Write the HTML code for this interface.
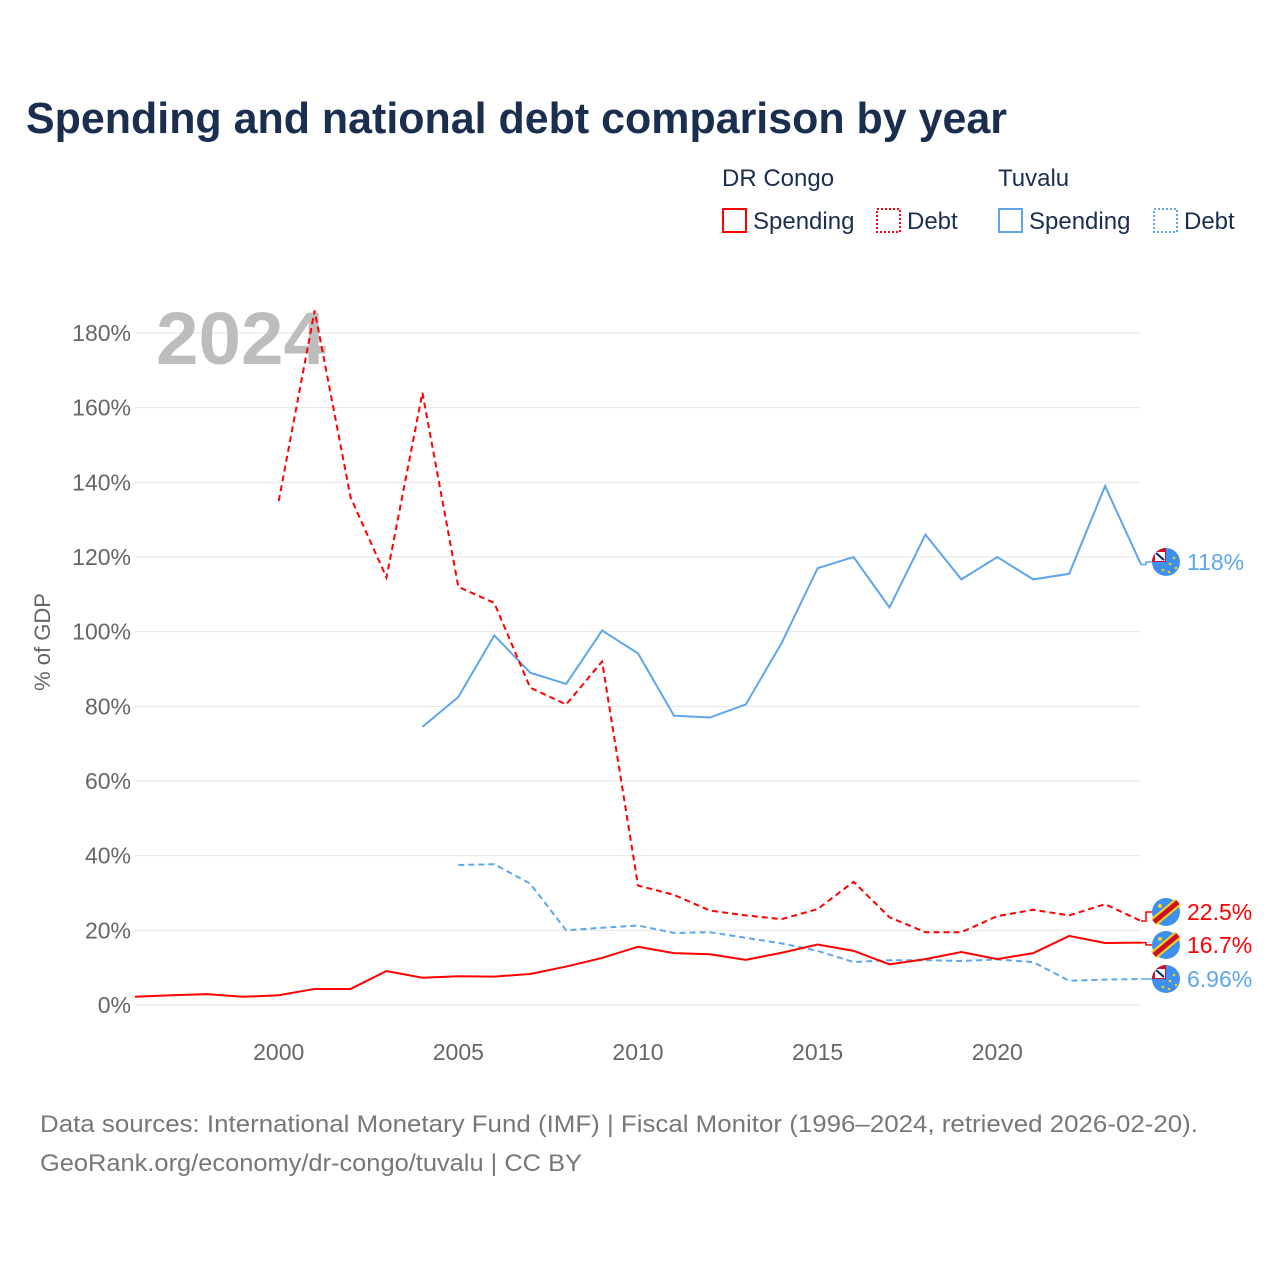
<!DOCTYPE html>
<html><head><meta charset="utf-8"><style>
body{margin:0;background:#fff;font-family:"Liberation Sans",sans-serif}
svg text{font-family:"Liberation Sans",sans-serif}
</style></head><body>
<svg id="c" width="1280" height="1280" xmlns="http://www.w3.org/2000/svg">
<text x="26" y="133" font-size="44" font-weight="bold" fill="#1a2e4f" textLength="981" lengthAdjust="spacingAndGlyphs">Spending and national debt comparison by year</text>
<g font-size="24" fill="#1a2e4f">
<text x="722" y="186">DR Congo</text>
<text x="998" y="186">Tuvalu</text>
<rect x="723" y="209" width="23" height="23" fill="none" stroke="#f00" stroke-width="2"/>
<text x="753" y="229">Spending</text>
<rect x="877" y="209" width="23" height="23" fill="none" stroke="#f00" stroke-width="2" stroke-dasharray="2 2"/>
<text x="907" y="229">Debt</text>
<rect x="999" y="209" width="23" height="23" fill="none" stroke="#5ea6ea" stroke-width="2"/>
<text x="1029" y="229">Spending</text>
<rect x="1154" y="209" width="23" height="23" fill="none" stroke="#5ea6ea" stroke-width="2" stroke-dasharray="2 2"/>
<text x="1184" y="229">Debt</text>
</g>
<g id="grid"></g>
<text x="156" y="364" font-size="74" font-weight="bold" fill="#bdbdbd" textLength="170" lengthAdjust="spacingAndGlyphs">2024</text>
<text transform="translate(50,642) rotate(-90)" text-anchor="middle" font-size="22" fill="#666">% of GDP</text>
<g id="marks"></g>
<g id="labels"></g>
<text x="40" y="1132" font-size="24" fill="#777" textLength="1158" lengthAdjust="spacingAndGlyphs">Data sources: International Monetary Fund (IMF) | Fiscal Monitor (1996–2024, retrieved 2026-02-20).</text>
<text x="40" y="1171" font-size="24" fill="#777" textLength="542" lengthAdjust="spacingAndGlyphs">GeoRank.org/economy/dr-congo/tuvalu | CC BY</text>
</svg>
<script>
const yTicks=[0,20,40,60,80,100,120,140,160,180];
const xTicks=[2000,2005,2010,2015,2020];
const drcSpendYears=[1996,1997,1998,1999,2000,2001,2002,2003,2004,2005,2006,2007,2008,2009,2010,2011,2012,2013,2014,2015,2016,2017,2018,2019,2020,2021,2022,2023,2024];
const drcSpend=[2.2,2.6,2.9,2.2,2.6,4.3,4.3,9.1,7.3,7.7,7.6,8.3,10.3,12.6,15.6,13.9,13.6,12.1,14.0,16.2,14.5,10.9,12.3,14.2,12.3,13.9,18.5,16.6,16.7];
const drcDebtYears=[2000,2001,2002,2003,2004,2005,2006,2007,2008,2009,2010,2011,2012,2013,2014,2015,2016,2017,2018,2019,2020,2021,2022,2023,2024];
const drcDebt=[135,186,136,114.5,164,112,107.7,85,80.5,92,32,29.5,25.3,24,23,25.7,33,23.5,19.5,19.5,23.8,25.5,24,27,22.5];
const tuvSpendYears=[2004,2005,2006,2007,2008,2009,2010,2011,2012,2013,2014,2015,2016,2017,2018,2019,2020,2021,2022,2023,2024];
const tuvSpend=[74.5,82.5,99,89,86,100.3,94.2,77.5,77,80.5,97,117,120,106.5,126,114,120,114,115.5,139,118];
const tuvDebtYears=[2005,2006,2007,2008,2009,2010,2011,2012,2013,2014,2015,2016,2017,2018,2019,2020,2021,2022,2023,2024];
const tuvDebt=[37.5,37.7,32.5,20,20.7,21.3,19.3,19.5,18,16.5,14.5,11.5,12,12,11.8,12.2,11.5,6.5,6.8,6.96];
const NS='http://www.w3.org/2000/svg';
const X=y=>135+(y-1996)*(1141-135)/28, Y=v=>1005-v*672/180;
function mk(t,a,p){const e=document.createElementNS(NS,t);for(const k in a)e.setAttribute(k,a[k]);p.appendChild(e);return e;}
const g=document.getElementById('grid');
yTicks.forEach(v=>{const l=mk('line',{x1:135,x2:1141,y1:Y(v),y2:Y(v),stroke:'#e6e6e6','stroke-width':1},g);


const t=mk('text',{x:131,y:Y(v)+8,'text-anchor':'end','font-size':23,fill:'#666'},g);t.textContent=v+'%';

});
xTicks.forEach(v=>{const t=mk('text',{x:X(v),y:1060,'text-anchor':'middle','font-size':23,fill:'#666'},g);t.textContent=v;

});
const m=document.getElementById('marks');
function line(ys,vs,col,dash,name){const p=mk('polyline',{points:ys.map((y,i)=>X(y)+','+Y(vs[i])).join(' '),fill:'none',stroke:col,'stroke-width':2,'stroke-dasharray':dash},m);

}
line(tuvDebtYears,tuvDebt,'#5ea6ea','6 4','line-tuvalu-debt');
line(tuvSpendYears,tuvSpend,'#5ea6ea','none','line-tuvalu-spending');
line(drcDebtYears,drcDebt,'#f00','6 4','line-drc-debt');
line(drcSpendYears,drcSpend,'#f00','none','line-drc-spending');
const L=document.getElementById('labels');
function lab(v,ly,col,txt,flag,name){
const y0=Y(v);
const c=mk('polyline',{points:`1141,${y0} 1146,${y0} 1146,${ly} 1152,${ly}`,fill:'none',stroke:col,'stroke-width':1.5},L);


const gg=mk('g',{},L);


mk('circle',{cx:1166,cy:ly,r:14,fill:'#3d8ff0'},gg);
if(flag==='drc'){mk('line',{x1:1154,y1:ly+10,x2:1178,y2:ly-10,stroke:'#f7d618','stroke-width':9},gg);
mk('line',{x1:1154,y1:ly+10,x2:1178,y2:ly-10,stroke:'#ce1021','stroke-width':5},gg);
mk('circle',{cx:1160,cy:ly-6,r:2,fill:'#f7d618'},gg);}
else{mk('path',{d:`M1166 ${ly} L1152 ${ly} A14 14 0 0 1 1166 ${ly-14} Z`,fill:'#c8102e'},gg);
mk('rect',{x:1155,y:ly-10,width:10,height:9,fill:'#fff'},gg);
mk('path',{d:`M1156 ${ly-9} L1164 ${ly-2}`,stroke:'#012169','stroke-width':2},gg);
[[1170,ly+2],[1174,ly-4],[1163,ly+8],[1176,ly+6],[1169,ly+10]].forEach(p=>mk('circle',{cx:p[0],cy:p[1],r:1.3,fill:'#ffce00'},gg));}
const t=mk('text',{x:1187,y:ly+8,'font-size':23,fill:col},L);t.textContent=txt;

}
lab(tuvSpend[tuvSpend.length-1],562,'#5ea6ea',tuvSpend[tuvSpend.length-1]+'%','tuv','label-tuvalu-spending');
lab(drcDebt[drcDebt.length-1],912,'#f00',drcDebt[drcDebt.length-1]+'%','drc','label-drc-debt');
lab(drcSpend[drcSpend.length-1],945,'#f00',drcSpend[drcSpend.length-1]+'%','drc','label-drc-spending');
lab(tuvDebt[tuvDebt.length-1],979,'#5ea6ea',tuvDebt[tuvDebt.length-1]+'%','tuv','label-tuvalu-debt');
</script>
</body></html>
